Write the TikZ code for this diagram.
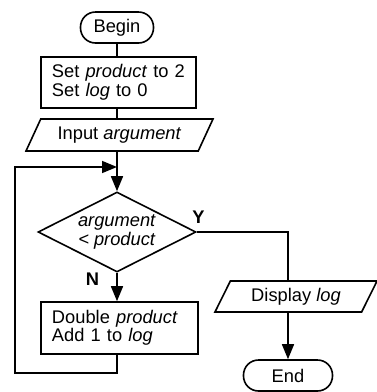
\documentclass[tikz,border=0pt]{standalone}
\usepackage{fontspec}
\setmainfont{Liberation Sans}
\usetikzlibrary{shapes.geometric,arrows.meta}
\begin{document}
\begin{tikzpicture}[x=1pt,y=-1pt,
  base/.style={draw, line width=1.6pt, font=\fontsize{18.3pt}{18.5pt}\selectfont},
  term/.style={base, rectangle, rounded corners=15pt, minimum height=31pt, inner sep=0pt},
  proc/.style={base, rectangle, align=left, inner xsep=11pt, inner ysep=0pt},
  io/.style={base, trapezium, trapezium left angle=48, trapezium right angle=132, trapezium stretches body=true, inner sep=0pt},
  dec/.style={base, diamond, aspect=2, inner sep=0pt, align=center},
  lbl/.style={font=\bfseries\fontsize{18.3pt}{19pt}\selectfont, inner sep=0pt},
  conn/.style={line width=1.6pt},
  arr/.style={conn, -{Triangle[length=15pt,width=12pt]}}]
\useasboundingbox (0,0) rectangle (377,392);
\node[term, minimum width=73pt] (begin) at (117,27.5) {Begin};
\node[proc, text width=133pt, minimum height=51pt] (init) at (118.5,82.5) {Set \textit{product} to 2\\Set \textit{log} to 0};
\node[io, minimum width=187pt, minimum height=32pt] (input) at (119.5,135) {Input \textit{argument}};
\node[dec, minimum width=158pt, minimum height=80pt] (test) at (117,232) {\textit{argument}\\\textit{< product}};
\node[proc, text width=135pt, minimum height=52pt] (step) at (119.5,328) {Double \textit{product}\\Add 1 to \textit{log}};
\node[io, minimum width=162pt, minimum height=31pt] (disp) at (296,296.5) {Display \textit{log}};
\node[term, minimum width=89pt] (end) at (288,375.5) {End};
\node[lbl] (ylab) at (198.5,217.5) {Y};
\node[lbl] (nlab) at (92.5,279) {N};
\coordinate (join) at (117,167);
\coordinate (lb) at (15,373);
\coordinate (lt) at (15,167);
\coordinate (yturn) at (288,232);
\draw[conn] (begin.south) -- (begin.south |- init.north);
\draw[conn] (init.south -| begin) -- (input.north -| begin);
\draw[arr] (input.south -| test) -- (test.north);
\draw[arr] (test.south) -- (test.south |- step.north);
\draw[arr] (step.south -| test) |- (lb) -- (lt) -- (join);
\draw[conn] (test.east) -- (yturn) -- (yturn |- disp.north);
\draw[arr] (yturn |- disp.south) -- (end.north);
\end{tikzpicture}
\end{document}
